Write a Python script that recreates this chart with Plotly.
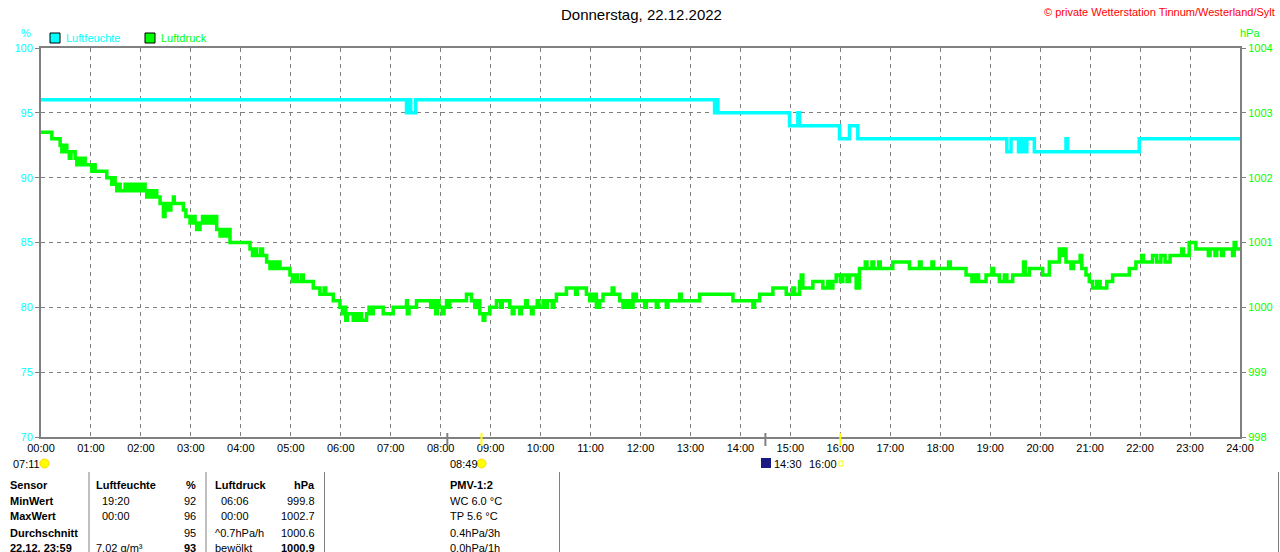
"""Tagesverlauf Luftfeuchte / Luftdruck, Wetterstation Tinnum (22.12.2022)."""

import numpy as np
import plotly.graph_objects as go

# --- data -------------------------------------------------------------------
# step breakpoints: minute of day -> value (held until next breakpoint)
hum_min = [0, 439, 443, 444, 450, 809, 811, 813, 899, 909, 911, 959, 971, 981,
           1160, 1165, 1174, 1177, 1181, 1184, 1193, 1231, 1233, 1319, 1440]
hum_val = [96, 95, 96, 95, 96, 95, 96, 95, 94, 95, 94, 93, 94, 93,
           92, 93, 92, 93, 92, 93, 92, 93, 92, 93, 93]

prs_min = [0, 13, 23, 25, 27, 31, 34, 36, 41, 43, 46, 48, 51, 53, 61, 63, 65, 79, 85, 87,
           89, 91, 93, 95, 101, 103, 107, 109, 113, 115, 119, 121, 123, 125, 127, 131, 133, 137,
           139, 143, 147, 149, 151, 153, 156, 159, 160, 171, 174, 179, 182, 185, 187, 191, 194,
           197, 200, 204, 207, 211, 215, 218, 221, 224, 227, 251, 254, 257, 259, 264, 266, 271,
           275, 278, 281, 284, 287, 299, 302, 305, 308, 313, 315, 327, 335, 340, 342, 351, 359,
           362, 364, 366, 368, 375, 377, 379, 383, 385, 391, 394, 396, 399, 411, 423,
           439, 440, 442, 451, 468, 470, 474, 476, 478, 482, 484, 487, 489, 491, 511, 517, 521,
           523, 527, 531, 533, 539, 547, 552, 554, 563, 566, 568, 575, 577, 582, 584, 589, 591,
           596, 598, 603, 606, 608, 614, 616, 619, 631, 642, 644, 655, 659, 663, 667, 671, 675,
           686, 688, 695, 699, 703, 707, 711, 715, 725, 727, 739, 741, 751, 753, 767, 769, 791,
           831, 855, 857, 863, 879, 895, 903, 905, 911, 913, 915, 927, 939, 945, 947, 951, 955,
           960, 963, 968, 971, 979, 983, 990, 992, 998, 1000, 1006, 1008, 1023, 1043, 1055, 1057,
           1070, 1072, 1090, 1092, 1111, 1118, 1122, 1126, 1135, 1142, 1144, 1151, 1157, 1160,
           1167, 1180, 1182, 1187, 1203, 1211, 1223, 1226, 1229, 1231, 1237, 1240, 1248, 1250,
           1255, 1259, 1263, 1268, 1272, 1280, 1287, 1307, 1315, 1322, 1324, 1335, 1340, 1345,
           1350, 1356, 1370, 1372, 1379, 1387, 1402, 1404, 1410, 1412, 1418, 1420, 1431, 1433,
           1435, 1440]
prs_val = [1002.7, 1002.6, 1002.5, 1002.4, 1002.5, 1002.4, 1002.3, 1002.4, 1002.3, 1002.2,
           1002.3, 1002.2, 1002.3, 1002.2, 1002.1, 1002.2, 1002.1, 1002.0, 1001.9, 1002.0,
           1001.9, 1001.8, 1001.9, 1001.8, 1001.9, 1001.8, 1001.9, 1001.8, 1001.9, 1001.8,
           1001.9, 1001.8, 1001.9, 1001.8, 1001.7, 1001.8, 1001.7, 1001.8, 1001.7, 1001.6,
           1001.4, 1001.5, 1001.6, 1001.5, 1001.6, 1001.7, 1001.6, 1001.5, 1001.4, 1001.3,
           1001.4, 1001.3, 1001.2, 1001.3, 1001.4, 1001.3, 1001.4, 1001.3, 1001.4, 1001.2,
           1001.1, 1001.2, 1001.1, 1001.2, 1001.0, 1000.9, 1000.8, 1000.9, 1000.8, 1000.9,
           1000.8, 1000.7, 1000.6, 1000.7, 1000.6, 1000.7, 1000.6, 1000.5, 1000.4, 1000.5,
           1000.4, 1000.5, 1000.4, 1000.3, 1000.2, 1000.3, 1000.2, 1000.1, 1000.0, 999.9,
           1000.0, 999.8, 999.9, 999.8, 999.9, 999.8, 999.9, 999.8, 999.9, 1000.0, 999.9,
           1000.0, 999.9, 1000.0,
           1000.1, 999.9, 1000.0, 1000.1, 1000.0, 1000.1, 999.9, 1000.1, 1000.0, 999.9, 1000.0,
           1000.1, 1000.0, 1000.1, 1000.2, 1000.1, 1000.0, 1000.1, 999.9, 999.8, 999.9, 1000.0,
           1000.1, 1000.0, 1000.1, 1000.0, 999.9, 1000.0, 999.9, 1000.0, 1000.1, 1000.0, 999.9,
           1000.0, 1000.1, 1000.0, 1000.1, 1000.0, 1000.1, 1000.0, 1000.1, 1000.2, 1000.3,
           1000.2, 1000.3, 1000.2, 1000.1, 1000.2, 1000.0, 1000.1, 1000.2, 1000.3, 1000.2,
           1000.1, 1000.0, 1000.1, 1000.0, 1000.2, 1000.1, 1000.0, 1000.1, 1000.0, 1000.1,
           1000.0, 1000.1, 1000.2, 1000.1, 1000.2, 1000.1, 1000.0, 1000.1, 1000.2, 1000.3,
           1000.2, 1000.3, 1000.2, 1000.4, 1000.5, 1000.3, 1000.4, 1000.3, 1000.4, 1000.3,
           1000.4, 1000.5, 1000.4, 1000.5, 1000.4, 1000.5, 1000.3, 1000.6, 1000.7, 1000.6,
           1000.7, 1000.6, 1000.7, 1000.6, 1000.7, 1000.6, 1000.7, 1000.6, 1000.7, 1000.6,
           1000.7, 1000.6, 1000.5, 1000.4, 1000.5, 1000.4, 1000.5, 1000.6, 1000.5, 1000.4,
           1000.5, 1000.4, 1000.5, 1000.7, 1000.5, 1000.6, 1000.5, 1000.7, 1000.9, 1000.8,
           1000.9, 1000.7, 1000.6, 1000.7, 1000.8, 1000.6, 1000.5, 1000.4, 1000.3, 1000.4,
           1000.3, 1000.4, 1000.5, 1000.6, 1000.7, 1000.8, 1000.7, 1000.8, 1000.7, 1000.8,
           1000.7, 1000.8, 1000.9, 1000.8, 1001.0, 1000.9, 1000.8, 1000.9, 1000.8, 1000.9,
           1000.8, 1000.9, 1000.8, 1001.0, 1000.9, 1000.9]

hour_ticks = list(range(0, 25))
hour_labels = [f"{h:02d}:00" for h in hour_ticks]

# sun / moon events below the time axis: (minute, marker colour)
events = [(529, "#FFFF00"), (488, "#808080"), (870, "#808080"), (960, "#FFFF00")]
event_labels = [(11, "07:11"), (448, "08:49"), (772, "14:30"), (807, "16:00")]

table_head = ["Sensor", "Luftfeuchte", "%", "Luftdruck", "hPa", "PMV-1:2"]
table_rows = [
    ["MinWert", "19:20", "92", "06:06", "999.8", "WC 6.0 °C"],
    ["MaxWert", "00:00", "96", "00:00", "1002.7", "TP 5.6 °C"],
    ["Durchschnitt", "", "95", "^0.7hPa/h", "1000.6", "0.4hPa/3h"],
    ["22.12. 23:59", "7.02 g/m³", "<b>93</b>", "bewölkt", "<b>1000.9</b>", "0.0hPa/1h"],
]

CYAN, GREEN, GRID = "#00FFFF", "#00FF00", "#808080"
FONT = "Liberation Sans, Arial, sans-serif"

# plot area in pixels: x 41..1240, y 48..437
X0, X1, Y0, Y1 = 41, 1240, 48, 437


def px(x):
    return (x - X0) / (X1 - X0)


def py(y):
    return (Y1 - y) / (Y1 - Y0)


fig = go.Figure()
fig.add_trace(go.Scatter(x=np.array(hum_min) / 60, y=hum_val, mode="lines", name="Luftfeuchte",
                         line=dict(color=CYAN, width=3.5, shape="hv"), showlegend=False))
fig.add_trace(go.Scatter(x=np.array(prs_min) / 60, y=prs_val, mode="lines", name="Luftdruck",
                         yaxis="y2", line=dict(color=GREEN, width=3.5, shape="hv"), showlegend=False))

fig.update_layout(
    width=1280, height=552,
    margin=dict(l=X0, r=1280 - X1, t=Y0, b=552 - Y1, autoexpand=False),
    paper_bgcolor="white", plot_bgcolor="white",
    font=dict(family=FONT, size=11, color="black"),
    xaxis=dict(range=[0, 24], tickvals=hour_ticks, ticktext=hour_labels, showgrid=True,
               gridcolor=GRID, griddash="4px,4px", gridwidth=1, showline=True, linecolor=GRID,
               linewidth=2, mirror=True, ticks="", zeroline=False, automargin=False,
               tickfont=dict(size=11, color="black")),
    yaxis=dict(range=[70, 100], dtick=5, showgrid=True, gridcolor=GRID, griddash="4px,4px",
               showline=True, linecolor=GRID, linewidth=2, ticks="outside", ticklen=4,
               tickcolor=GRID, zeroline=False, automargin=False,
               tickfont=dict(size=11, color=CYAN)),
    yaxis2=dict(range=[998, 1004], dtick=1, overlaying="y", side="right", showgrid=False,
                showline=True, linecolor=GRID, linewidth=2, ticks="outside", ticklen=4,
                tickcolor=GRID, zeroline=False, automargin=False,
                tickfont=dict(size=11, color=GREEN)),
)

ann = []
shapes = []


def text(x, y, s, color="black", size=11, anchor="left", bold=False):
    ann.append(dict(x=px(x), y=py(y), xref="paper", yref="paper", text=f"<b>{s}</b>" if bold else s,
                    showarrow=False, xanchor=anchor, yanchor="middle",
                    font=dict(family=FONT, size=size, color=color)))


text(641, 15, "Donnerstag, 22.12.2022", size=15, anchor="center")
text(1277, 12, "© private Wetterstation Tinnum/Westerland/Sylt", color="#FF0000", anchor="right")
text(26, 33, "%", color=CYAN, anchor="center")
text(1250, 33, "hPa", color=GREEN, anchor="center")

# legend boxes
for x, label, col in [(50, "Luftfeuchte", CYAN), (145, "Luftdruck", GREEN)]:
    shapes.append(dict(type="rect", xref="paper", yref="paper", x0=px(x), x1=px(x + 10),
                       y0=py(43), y1=py(33), fillcolor=col, line=dict(color="black", width=1)))
    text(x + 14, 38, label, color=col)

# sun / moon markers
for minute, col in events:
    xp = X0 + minute / 60 * (X1 - X0) / 24
    shapes.append(dict(type="line", xref="paper", yref="paper", x0=px(xp), x1=px(xp),
                       y0=py(433), y1=py(446), line=dict(color=col, width=2)))
for x, s in event_labels:
    text(x, 464, s)
shapes.append(dict(type="circle", xref="paper", yref="paper", x0=px(40), x1=px(49),
                   y0=py(468), y1=py(459), fillcolor="#FFFF00", line=dict(color="#FFD700", width=1)))
shapes.append(dict(type="circle", xref="paper", yref="paper", x0=px(477), x1=px(486),
                   y0=py(468), y1=py(459), fillcolor="#FFFF00", line=dict(color="#FFD700", width=1)))
shapes.append(dict(type="rect", xref="paper", yref="paper", x0=px(761), x1=px(771),
                   y0=py(468), y1=py(458), fillcolor="#1A1A80", line=dict(width=0)))
shapes.append(dict(type="rect", xref="paper", yref="paper", x0=px(839), x1=px(843),
                   y0=py(466), y1=py(461), fillcolor="white", line=dict(color="#FFFF00", width=1)))

# table
col_x = [(8, "left"), (94, "left"), (198, "right"), (213, "left"), (317, "right"), (448, "left")]
row_y = [485, 501, 516, 533, 548]
for (x, a), s in zip(col_x, table_head):
    text(x, row_y[0], s, anchor=a, bold=True)
for r, row in enumerate(table_rows, start=1):
    for c, ((x, a), s) in enumerate(zip(col_x, row)):
        if c in (1, 3) and r < 3:
            x += 6
        text(x, row_y[r], s, anchor=a, bold=(c == 0))
for x in [89, 206, 324.5, 559.5, 1278.5]:
    shapes.append(dict(type="line", xref="paper", yref="paper", x0=px(x), x1=px(x),
                       y0=py(472), y1=py(560), line=dict(color=GRID, width=1)))

fig.update_layout(annotations=ann, shapes=shapes)
# the page body has a default 8px margin; drop it so the figure sits at the window corner
fig.write_html("out.html", config={"displayModeBar": False},
               post_script="document.body.style.margin='0';")
